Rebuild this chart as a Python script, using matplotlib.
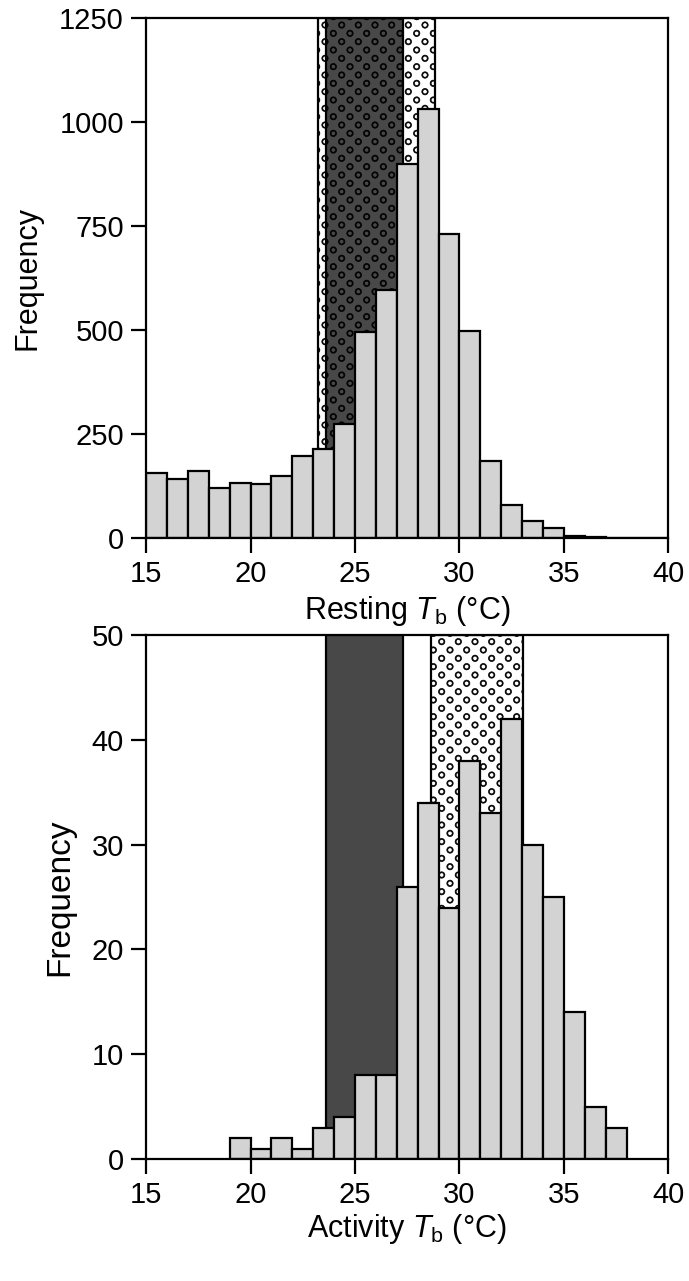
import numpy as np
import matplotlib
matplotlib.use("Agg")
import matplotlib.pyplot as plt
from matplotlib import hatch as mhatch
from matplotlib.path import Path

plt.rcParams["font.family"] = ["Liberation Sans", "DejaVu Sans"]
plt.rcParams["mathtext.fontset"] = "custom"
plt.rcParams["mathtext.rm"] = "Liberation Sans"
plt.rcParams["mathtext.it"] = "Liberation Sans:italic"
plt.rcParams["hatch.linewidth"] = 0.5

# histogram bins (1 degree wide), left edges
resting_edges = np.arange(15, 40)
resting_freq = [156, 142, 160, 121, 133, 129, 149, 197, 215, 273,
                495, 597, 898, 1032, 730, 497, 186, 79, 41, 24,
                6, 2, 0, 0, 0]

activity_edges = np.arange(19, 38)
activity_freq = [2, 1, 2, 1, 3, 4, 8, 8, 26, 34, 24, 38, 33, 42, 30, 25, 14, 5, 3]

# shaded ranges (deg C)
rest_pref = (23.25, 28.85)     # dotted band
rest_dark = (23.6, 27.3)       # dark band
act_dark = (23.6, 27.3)
act_pref = (28.65, 33.05)


# staggered open rings, rows twice as close as columns (replaces the 'o' hatch)
class StaggerCircles(mhatch.HatchPatternBase):
    def __init__(self, hatch, density):
        n = hatch.count("o") * density
        self.centers = []
        if n:
            for r in range(2 * n + 1):
                if r % 2 == 0:
                    cols = np.linspace(0, 1, n + 1)
                else:
                    cols = np.linspace(0.5 / n, 1 - 0.5 / n, n)
                self.centers += [(c, r / (2 * n)) for c in cols]
        self.circ = Path.unit_circle()
        self.num_vertices = len(self.centers) * len(self.circ.vertices) * 2

    def set_vertices_and_codes(self, vertices, codes):
        k = len(self.circ.vertices)
        outer = self.circ.vertices * 0.032
        inner = self.circ.vertices[::-1] * 0.022
        for i, (cx, cy) in enumerate(self.centers):
            j = 2 * i * k
            vertices[j:j + k] = outer + (cx, cy)
            vertices[j + k:j + 2 * k] = inner + (cx, cy)
            codes[j:j + k] = self.circ.codes
            codes[j + k:j + 2 * k] = self.circ.codes


mhatch._hatch_types = [StaggerCircles if t is mhatch.SmallCircles else t
                       for t in mhatch._hatch_types]

fig = plt.figure(figsize=(6.89, 12.81), dpi=100)
ax1 = fig.add_axes([0.212, 0.58, 0.758, 0.406])
ax2 = fig.add_axes([0.212, 0.0952, 0.758, 0.409])

bar_kw = dict(width=1.0, align="edge", color="#d3d3d3", edgecolor="black",
              linewidth=1.6, zorder=3)
fs = 21

# top panel
ax1.axvspan(*rest_pref, facecolor="white", edgecolor="black", hatch="o",
            linewidth=1.6, zorder=1)
ax1.axvspan(*rest_dark, facecolor="#484848", edgecolor="black", hatch="o",
            linewidth=1.6, zorder=2)
ax1.bar(resting_edges, resting_freq, **bar_kw)
ax1.set_xlim(15, 40)
ax1.set_ylim(0, 1250)
ax1.set_yticks([0, 250, 500, 750, 1000, 1250])
ax1.set_xticks([15, 20, 25, 30, 35, 40])
ax1.set_ylabel("Frequency", fontsize=22, labelpad=12)
ax1.set_xlabel(r"Resting $\mathit{T}_{\mathrm{b}}$ (°C)", fontsize=22, labelpad=4)

# bottom panel
ax2.axvspan(*act_pref, facecolor="white", edgecolor="black", hatch="o",
            linewidth=1.6, zorder=1)
ax2.axvspan(*act_dark, facecolor="#484848", edgecolor="black",
            linewidth=1.6, zorder=2)
ax2.bar(activity_edges, activity_freq, **bar_kw)
ax2.set_xlim(15, 40)
ax2.set_ylim(0, 50)
ax2.set_yticks([0, 10, 20, 30, 40, 50])
ax2.set_xticks([15, 20, 25, 30, 35, 40])
ax2.set_ylabel("Frequency", fontsize=24, labelpad=12)
ax2.set_xlabel(r"Activity $\mathit{T}_{\mathrm{b}}$ (°C)", fontsize=22, labelpad=2)

for ax in (ax1, ax2):
    for s in ax.spines.values():
        s.set_linewidth(1.6)
        s.set_zorder(5)
    ax.tick_params(direction="out", length=11, width=1.6, labelsize=fs, pad=5)

fig.savefig("out.png", dpi=100)
